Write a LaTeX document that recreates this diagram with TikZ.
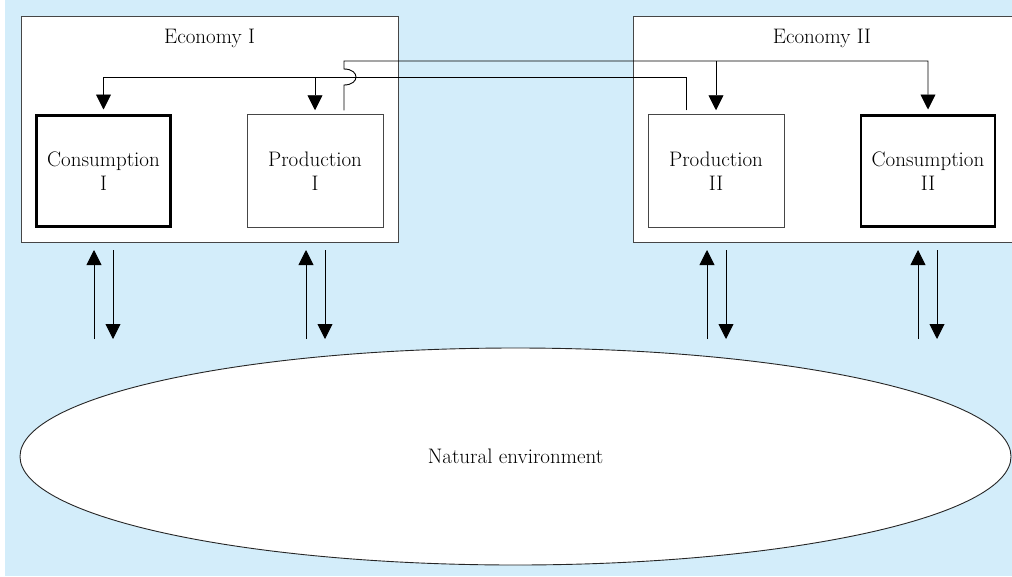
\documentclass[tikz,border=0pt]{standalone}
\usetikzlibrary{arrows.meta,shapes.geometric,calc}
\definecolor{skyback}{RGB}{211,237,250}
\definecolor{frame}{RGB}{70,70,70}
\begin{document}
\begin{tikzpicture}[x=1pt,y=-1pt,
  every node/.style={font=\fontsize{21}{23.6}\selectfont, text=black},
  econbox/.style={draw=frame, line width=1pt, fill=white, inner sep=0pt,
    outer xsep=0pt, outer ysep=8pt, minimum height=226pt},
  unitbox/.style={draw=frame, line width=0.9pt, fill=white, inner sep=0pt,
    align=center, outer xsep=0pt, outer ysep=4pt,
    minimum width=136pt, minimum height=113.5pt},
  homebox/.style={unitbox, draw=black, line width=2.8pt, outer ysep=6pt,
    minimum width=134pt, minimum height=111pt},
  flow/.style={draw=black, line width=0.9pt},
  arr/.style={flow, -{Triangle[width=15pt,length=15pt]}},
]
% page and background
\useasboundingbox (0,0) rectangle (1012,576);
\fill[skyback] (5,0) rectangle (1012,576);

% the two economies
\node[econbox, minimum width=377pt] (eco1) at (209.5,129) {};
\node[econbox, minimum width=380pt] (eco2) at (823,129) {};
\node (lab1) at (209.5,38) {Economy I};
\node (lab2) at (822,38) {Economy II};

% sectors
\node[homebox] (cons1) at (103.5,171) {Consumption\\I};
\node[unitbox] (prod1) at (315,171) {Production\\I};
\node[unitbox] (prod2) at (716,171) {Production\\II};
\node[homebox] (cons2) at (928,171) {Consumption\\II};

% natural environment
\node[ellipse, draw=black!85, line width=0.9pt, fill=white, inner sep=0pt,
  minimum width=991pt, minimum height=217pt] (env) at (515.5,456.5)
  {Natural environment};

% trade lines between the economies
\coordinate (busA) at (0,61);
\coordinate (busB) at (0,77);
\coordinate (p1o) at ([xshift=29pt]prod1.north);
\coordinate (p2o) at ([xshift=-30pt]prod2.north);
\coordinate (hop) at (p1o |- busB);

% output of Production II to Economy I
\draw[arr] (p2o) -- (p2o |- busB) -- (cons1.north |- busB) -- (cons1.north);
\draw[arr] (prod1.north |- busB) -- (prod1.north);

% output of Production I to Economy II, hopping over the other line
\draw[arr] (p1o) -- ([yshift=-8pt]hop)
  .. controls +(16,0) and +(16,0) .. ([yshift=8pt]hop)
  -- (p1o |- busA) -- (cons2.north |- busA) -- (cons2.north);
\draw[arr] (prod2.north |- busA) -- (prod2.north);

% exchanges with the environment
\coordinate (c1up) at (94,339);  \coordinate (c1dn) at (113,339);
\coordinate (p1up) at (306,339); \coordinate (p1dn) at (325,339);
\coordinate (p2up) at (707,339); \coordinate (p2dn) at (726,339);
\coordinate (c2up) at (918,339); \coordinate (c2dn) at (937,339);

\draw[arr] (c1up) -- (c1up |- eco1.south);
\draw[arr] (c1dn |- eco1.south) -- (c1dn);
\draw[arr] (p1up) -- (p1up |- eco1.south);
\draw[arr] (p1dn |- eco1.south) -- (p1dn);
\draw[arr] (p2up) -- (p2up |- eco2.south);
\draw[arr] (p2dn |- eco2.south) -- (p2dn);
\draw[arr] (c2up) -- (c2up |- eco2.south);
\draw[arr] (c2dn |- eco2.south) -- (c2dn);
\end{tikzpicture}
\end{document}
